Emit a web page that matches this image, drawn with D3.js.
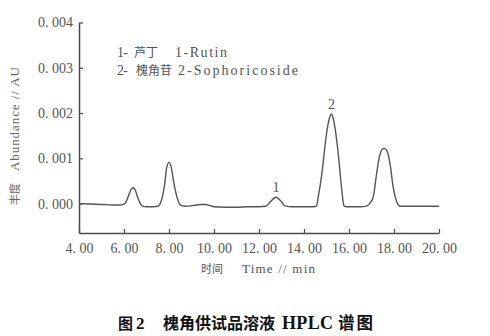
<!DOCTYPE html>
<html><head><meta charset="utf-8">
<script src="https://cdn.jsdelivr.net/npm/d3@7"></script>
<style>body{margin:0;background:#fff}</style>
</head><body><svg id="c" width="490" height="336"></svg>
<script>
// Chromatogram trace (time in min, abundance in AU)
const times = [4.0,4.5,5.0,5.5,5.8,6.0,6.1,6.2,6.3,6.4,6.5,6.6,6.7,6.8,7.0,7.3,7.5,7.65,7.8,7.9,8.0,8.1,8.2,8.35,8.5,8.7,9.0,9.2,9.4,9.6,9.8,10.0,10.5,11.0,11.5,12.0,12.3,12.5,12.75,13.0,13.15,13.5,14.0,14.4,14.55,14.65,14.75,14.85,14.95,15.05,15.15,15.22,15.3,15.4,15.5,15.6,15.7,15.78,15.9,16.5,16.8,16.95,17.08,17.23,17.35,17.48,17.58,17.7,17.82,17.97,18.12,18.27,19.0,20.0];
const values = [0.00000,-0.00001,-0.00002,-0.00003,-0.00003,-0.00001,0.00005,0.00017,0.00030,0.00035,0.00030,0.00015,0.00002,-0.00005,-0.00007,-0.00007,-0.00006,0.00005,0.00040,0.00080,0.00091,0.00080,0.00050,0.00015,-0.00003,-0.00006,-0.00005,-0.00003,-0.00002,-0.00002,-0.00004,-0.00007,-0.00008,-0.00008,-0.00007,-0.00007,-0.00006,0.00004,0.00014,0.00004,-0.00005,-0.00007,-0.00007,-0.00007,-0.00006,0.00020,0.00050,0.00090,0.00135,0.00170,0.00192,0.00198,0.00188,0.00160,0.00120,0.00070,0.00020,-0.00005,-0.00007,-0.00007,-0.00005,0.00002,0.00015,0.00067,0.00103,0.00120,0.00122,0.00115,0.00089,0.00034,0.00004,-0.00006,-0.00006,-0.00006];
const xTicks = [4,6,8,10,12,14,16,18,20];
const yTicks = [0,0.001,0.002,0.003,0.004];
const peakNames = ["1","2"];
const peakTimes = [12.75,15.22];
const peakValues = [0.00014,0.00198];
const legendNums = ["1-","2-"];
const legendCN = ["芦丁","槐角苷"];
const legendEN = ["1-Rutin","2-Sophoricoside"];
const yTitleCN = "丰度", yTitleEN = "Abundance // AU";
const xTitleCN = "时间", xTitleEN = "Time // min";
const captionParts = ["图","2","槐角供试品溶液","HPLC","谱图"];

const svg = d3.select("#c");
const ink = "#4a4a4a";
const serif = "'Liberation Serif',serif";
const cjk = "'Noto Sans CJK SC',sans-serif";

const x = d3.scaleLinear().domain([4,20]).range([79,439]);
const y = d3.scaleLinear().domain([-0.00065,0.004]).range([233,22.5]);

const fmt = d => d3.format(".2f")(d).replace(".", ". ");
const fmtY = d => d3.format(".3f")(d).replace(".", ". ");

const gx = svg.append("g").attr("transform","translate(0,233)")
  .call(d3.axisBottom(x).tickValues(xTicks).tickSize(-4).tickSizeOuter(0).tickPadding(10).tickFormat(fmt));
const gy = svg.append("g").attr("transform","translate(79,0)")
  .call(d3.axisLeft(y).tickValues(yTicks).tickSize(-4).tickSizeOuter(0).tickPadding(6).tickFormat(fmtY));
[gx,gy].forEach(g=>{
  g.select(".domain").attr("stroke",ink).attr("stroke-width",1.5);
  g.selectAll(".tick line").attr("stroke",ink).attr("stroke-width",1.2);
  g.selectAll(".tick text").attr("fill","#555").style("font-family",serif).style("font-size","14px");
});

const pts = times.map((t,i)=>[t,values[i]]);
svg.append("path").datum(pts)
  .attr("fill","none").attr("stroke","#555").attr("stroke-width",1.4)
  .attr("d", d3.line().x(d=>x(d[0])).y(d=>y(d[1])).curve(d3.curveMonotoneX));

svg.selectAll("text.peak").data(peakNames).join("text").attr("class","peak")
  .attr("x",(d,i)=>x(peakTimes[i])).attr("y",(d,i)=>y(peakValues[i])-5)
  .attr("text-anchor","middle").attr("fill","#555")
  .style("font-family",serif).style("font-size","14px").text(d=>d);

// legend
const legCNx = [134,136], legENx = [175,178], legENw = [52,120];
legendNums.forEach((n,i)=>{
  const t = svg.append("text").attr("y",57+i*18).attr("fill","#555").style("font-size","14px");
  t.append("tspan").attr("x",117).style("font-family",serif).attr("textLength",11).text(n);
  t.append("tspan").attr("x",legCNx[i]).style("font-family",cjk).style("font-size","12px")
    .text(legendCN[i]);
  t.append("tspan").attr("x",legENx[i]).style("font-family",serif)
    .attr("textLength",legENw[i]).attr("lengthAdjust","spacing").text(legendEN[i]);
});

// y title (rotated)
const yt = svg.append("text").attr("transform","translate(19,0) rotate(-90)")
  .attr("fill","#666").style("font-size","13px");
yt.append("tspan").attr("x",-205).style("font-family",cjk).style("font-size","11px").text(yTitleCN);
yt.append("tspan").attr("x",-171).style("font-family",serif).attr("textLength",104).attr("lengthAdjust","spacing").text(yTitleEN);

// x title
const xt = svg.append("text").attr("y",273).attr("fill","#555").style("font-size","13px");
xt.append("tspan").attr("x",201).style("font-family",cjk).style("font-size","11px").text(xTitleCN);
xt.append("tspan").attr("x",242).style("font-family",serif).attr("textLength",73).attr("lengthAdjust","spacing").text(xTitleEN);

// caption
const cap = svg.append("text").attr("y",329).attr("fill","#111").style("font-weight","bold");
cap.append("tspan").attr("x",118).style("font-family",cjk).style("font-size","15px").text(captionParts[0]);
cap.append("tspan").attr("x",136).style("font-family",serif).style("font-size","17px").text(captionParts[1]);
cap.append("tspan").attr("x",163).style("font-family",cjk).style("font-size","16px").attr("textLength",112).text(captionParts[2]);
cap.append("tspan").attr("x",282).style("font-family",serif).style("font-size","18px").attr("textLength",51).text(captionParts[3]);
cap.append("tspan").attr("x",338).style("font-family",cjk).style("font-size","16.5px").attr("textLength",35).text(captionParts[4]);
</script></body></html>
